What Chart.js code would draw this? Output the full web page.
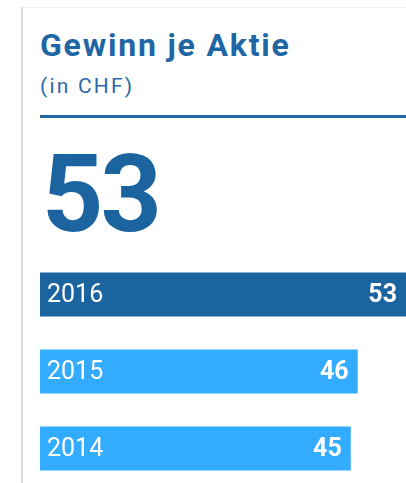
<!DOCTYPE html>
<html lang="de">
<head>
<meta charset="UTF-8" />
<title>Gewinn je Aktie</title>
<script src="https://cdn.jsdelivr.net/npm/chart.js@4.4.0/dist/chart.umd.min.js"></script>
<style>
  html, body { margin: 0; padding: 0; background: #fff; overflow: hidden; }
  body { width: 406px; height: 483px; position: relative; font-family: Roboto, sans-serif; }
  .card { position: absolute; left: 21px; top: 7px; right: 0; bottom: 0;
          border-left: 2px solid #dcdcdc; border-top: 1px solid #f0f0f0; }
  h1 { position: absolute; left: 40px; top: 25px; margin: 0; font-size: 32px; font-weight: 700;
       color: #1f66a4; letter-spacing: 1.8px; line-height: 40px; }
  .sub { position: absolute; left: 40px; top: 72px; font-size: 21px; color: #2a6aa8;
         letter-spacing: 2.2px; line-height: 28px; }
  .rule { position: absolute; left: 40px; right: 0; top: 115px; height: 3px; background: #2467a5; }
  .big { position: absolute; left: 42px; top: 135px; font-size: 107px; font-weight: 700;
         color: #1b64a0; line-height: 120px; letter-spacing: -3px; }
  #wrap { position: absolute; left: 40px; top: 256px; width: 366px; height: 231px; }
</style>
</head>
<body>
<div class="card"></div>
<h1>Gewinn je Aktie</h1>
<div class="sub">(in CHF)</div>
<div class="rule"></div>
<div class="big" id="big"></div>
<div id="wrap"><canvas id="myChart"></canvas></div>

<script>
  const years = ['2016', '2015', '2014'];
  const eps = [53, 46, 45];
  const barColors = ['#1b64a0', '#33abff', '#33abff'];

  document.getElementById('big').textContent = eps[0];

  // year on the left, value on the right, inside each bar
  const barLabels = {
    id: 'barLabels',
    afterDatasetsDraw(chart) {
      const ctx = chart.ctx;
      const meta = chart.getDatasetMeta(0);
      ctx.save();
      ctx.fillStyle = '#fff';
      ctx.textBaseline = 'middle';
      meta.data.forEach((bar, i) => {
        ctx.font = '400 25px Roboto';
        ctx.textAlign = 'left';
        ctx.fillText(years[i], bar.base + 7, bar.y + 1);
        ctx.font = '700 25px Roboto';
        ctx.textAlign = 'right';
        ctx.fillText(eps[i], bar.x - 9, bar.y + 1);
      });
      ctx.restore();
    }
  };

  new Chart(document.getElementById('myChart'), {
    type: 'bar',
    data: {
      labels: years,
      datasets: [{
        data: eps,
        backgroundColor: barColors,
        borderWidth: 0,
        categoryPercentage: 1,
        barPercentage: 0.57
      }]
    },
    options: {
      indexAxis: 'y',
      responsive: true,
      maintainAspectRatio: false,
      animation: false,
      layout: { padding: 0 },
      plugins: { legend: { display: false }, tooltip: { enabled: false } },
      scales: {
        x: { display: false, min: 0, max: 53 },
        y: { display: false }
      }
    },
    plugins: [barLabels]
  });
</script>
</body>
</html>
